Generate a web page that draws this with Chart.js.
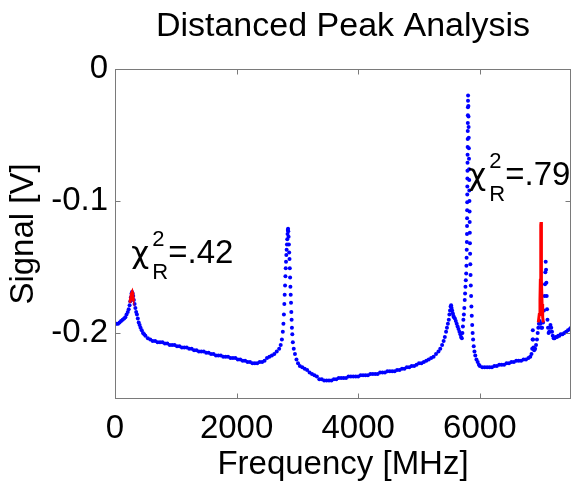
<!DOCTYPE html>
<html>
<head>
<meta charset="utf-8">
<script src="https://cdn.jsdelivr.net/npm/chart.js@4.4.1/dist/chart.umd.min.js"></script>
<style>
  html, body { margin: 0; padding: 0; background: #fff; }
  canvas { display: block; }
</style>
</head>
<body>
<canvas id="peakChart" width="576" height="485"></canvas>
<script>
// measured signal (blue dots)
var freqMHz = [
  0, 25, 50, 75, 100, 125, 150, 170, 190, 210,
  225, 240, 252, 262, 272, 280, 290, 300, 310, 322,
  335, 348, 361, 375, 390, 405, 420, 440, 460, 480,
  500, 540, 580, 620, 660, 700, 740, 780, 820, 860,
  900, 940, 980, 1020, 1060, 1100, 1140, 1180, 1220, 1260,
  1300, 1340, 1380, 1420, 1460, 1500, 1540, 1580, 1620, 1660,
  1700, 1740, 1780, 1820, 1860, 1900, 1940, 1980, 2020, 2060,
  2100, 2140, 2180, 2220, 2260, 2300, 2340, 2380, 2420, 2460,
  2500, 2540, 2580, 2620, 2660, 2700, 2725, 2745,
  2760, 2770, 2778, 2785, 2791, 2797, 2803, 2808, 2813, 2818,
  2823, 2828, 2833, 2838, 2842, 2846, 2850, 2855, 2860, 2865,
  2870, 2875, 2880, 2885, 2890, 2895, 2900, 2905, 2910, 2916,
  2925, 2940, 2960, 2985, 3010, 3040,
  3080, 3120, 3160, 3200, 3240, 3280, 3320, 3360, 3400, 3440,
  3480, 3520, 3560, 3600, 3640, 3680, 3720, 3760, 3800, 3840,
  3880, 3920, 3960, 4000, 4040, 4080, 4120, 4160, 4200, 4240,
  4280, 4320, 4360, 4400, 4440, 4480, 4520, 4560, 4600, 4640,
  4680, 4720, 4760, 4800, 4840, 4880, 4920, 4960, 5000, 5040,
  5080, 5120, 5160, 5200, 5240, 5280, 5320, 5350, 5380, 5405,
  5425, 5445, 5460, 5475, 5490, 5500, 5510, 5520, 5528, 5536,
  5545, 5555, 5565, 5575, 5590, 5605, 5620, 5635, 5650, 5665,
  5680, 5692, 5705,
  5714, 5722, 5730, 5738, 5745, 5752, 5758, 5764, 5770, 5776,
  5780, 5783, 5785, 5787, 5789, 5790, 5791, 5792, 5793, 5794,
  5795, 5796, 5797, 5798, 5799, 5800, 5801, 5802, 5803, 5804,
  5805, 5806, 5807, 5812, 5814, 5816, 5818, 5820, 5822, 5824,
  5826, 5828, 5830, 5832, 5834, 5836, 5838, 5841, 5844, 5848,
  5852, 5857, 5862, 5868, 5875, 5882, 5890, 5900, 5912, 5926,
  5945, 5965, 5985,
  6000, 6040, 6080, 6120, 6160, 6200, 6240, 6280, 6320, 6360,
  6400, 6440, 6480, 6520, 6560, 6600, 6640, 6680, 6720, 6760,
  6800, 6830, 6850, 6862, 6868, 6872, 6876, 6882, 6895, 6910,
  6925, 6940, 6952, 6962, 6972, 6985, 6998, 7010, 7025, 7040,
  7055, 7065, 7072, 7078, 7084, 7090, 7095, 7100, 7106, 7113,
  7122, 7132, 7142, 7152, 7162, 7175, 7188, 7200, 7215, 7230,
  7250, 7270, 7290, 7310, 7330, 7360, 7390, 7420, 7450, 7480, 7500
];
var signalV = [
  -0.193, -0.193, -0.193, -0.192, -0.191, -0.190, -0.189, -0.188, -0.186, -0.184,
  -0.182, -0.179, -0.176, -0.173, -0.170, -0.169, -0.170, -0.172, -0.175, -0.178,
  -0.181, -0.184, -0.186, -0.189, -0.192, -0.194, -0.196, -0.198, -0.200, -0.201,
  -0.202, -0.204, -0.205, -0.206, -0.206, -0.207, -0.207, -0.207, -0.208, -0.208,
  -0.209, -0.209, -0.209, -0.210, -0.210, -0.211, -0.211, -0.211, -0.212, -0.212,
  -0.213, -0.213, -0.214, -0.214, -0.214, -0.215, -0.215, -0.216, -0.216, -0.217,
  -0.217, -0.217, -0.218, -0.218, -0.218, -0.219, -0.219, -0.219, -0.220, -0.220,
  -0.221, -0.221, -0.222, -0.222, -0.223, -0.223, -0.223, -0.222, -0.222, -0.221,
  -0.219, -0.218, -0.217, -0.216, -0.214, -0.212, -0.209, -0.205,
  -0.199, -0.193, -0.186, -0.178, -0.171, -0.164, -0.157, -0.151, -0.146, -0.141,
  -0.137, -0.133, -0.129, -0.125, -0.122, -0.121, -0.123, -0.127, -0.133, -0.139,
  -0.144, -0.151, -0.158, -0.165, -0.171, -0.177, -0.184, -0.190, -0.196, -0.201,
  -0.207, -0.212, -0.216, -0.220, -0.223, -0.225,
  -0.226, -0.227, -0.228, -0.230, -0.231, -0.232, -0.233, -0.235, -0.235, -0.236,
  -0.236, -0.236, -0.236, -0.235, -0.235, -0.234, -0.234, -0.234, -0.234, -0.233,
  -0.233, -0.233, -0.233, -0.233, -0.232, -0.232, -0.232, -0.232, -0.231, -0.231,
  -0.231, -0.231, -0.230, -0.230, -0.230, -0.229, -0.229, -0.229, -0.229, -0.228,
  -0.228, -0.227, -0.227, -0.226, -0.226, -0.225, -0.225, -0.224, -0.223, -0.223,
  -0.222, -0.221, -0.220, -0.219, -0.218, -0.216, -0.214, -0.212, -0.209, -0.206,
  -0.203, -0.199, -0.196, -0.193, -0.190, -0.186, -0.183, -0.180, -0.179, -0.181,
  -0.183, -0.185, -0.187, -0.188, -0.189, -0.191, -0.193, -0.195, -0.197, -0.199,
  -0.201, -0.203, -0.204,
  -0.200, -0.195, -0.190, -0.186, -0.181, -0.175, -0.170, -0.165, -0.160, -0.155,
  -0.149, -0.143, -0.137, -0.131, -0.125, -0.119, -0.113, -0.107, -0.101, -0.095,
  -0.089, -0.083, -0.077, -0.071, -0.065, -0.059, -0.053, -0.047, -0.041, -0.035,
  -0.029, -0.024, -0.020, -0.028, -0.036, -0.044, -0.052, -0.060, -0.068, -0.076,
  -0.084, -0.092, -0.100, -0.108, -0.116, -0.124, -0.132, -0.140, -0.148, -0.156,
  -0.164, -0.172, -0.180, -0.187, -0.194, -0.200, -0.205, -0.210, -0.214, -0.217,
  -0.220, -0.222, -0.224,
  -0.225, -0.226, -0.226, -0.226, -0.226, -0.226, -0.225, -0.225, -0.224, -0.224,
  -0.224, -0.223, -0.223, -0.222, -0.222, -0.221, -0.221, -0.221, -0.220, -0.220,
  -0.219, -0.218, -0.216, -0.212, -0.205, -0.198, -0.205, -0.211, -0.213, -0.212,
  -0.209, -0.205, -0.200, -0.196, -0.193, -0.191, -0.193, -0.196, -0.196, -0.192,
  -0.183, -0.172, -0.163, -0.154, -0.146, -0.152, -0.162, -0.172, -0.182, -0.190,
  -0.196, -0.200, -0.199, -0.196, -0.194, -0.196, -0.199, -0.202, -0.204, -0.204,
  -0.203, -0.203, -0.202, -0.202, -0.201, -0.201, -0.200, -0.199, -0.198, -0.197, -0.196
];

// fitted peaks (red lines)
var fitLeftF = [245, 260, 272, 282, 292, 305];
var fitLeftV = [-0.177, -0.173, -0.170, -0.169, -0.171, -0.176];
var fitRightF = [6962, 6978, 6990, 6996, 7000, 7003, 7006, 7008, 7010, 7013, 7017, 7024, 7034, 7046];
var fitRightV = [-0.192, -0.186, -0.175, -0.160, -0.145, -0.130, -0.118, -0.116, -0.122, -0.140, -0.160, -0.178, -0.188, -0.192];

var xTicks = [0, 2000, 4000, 6000];
var yTicks = [0, -0.1, -0.2];

// reduced chi-square labels, anchored in data units
var chiText = ['.42', '.79'];
var chiF = [268, 5811];
var chiV = [-0.147, -0.088];

var titleText = 'Distanced Peak Analysis';
var FONT = '"Liberation Sans", Arial, Helvetica, sans-serif';

function toPoints(xs, ys) {
    return xs.map(function (x, i) { return { x: x, y: ys[i] }; });
}

// gray box round the axes, ticks pointing inwards (matlab style)
var boxPlugin = {
    id: 'box',
    afterDatasetsDraw: function (chart) {
        var a = chart.chartArea, sx = chart.scales.x, sy = chart.scales.y, c = chart.ctx;
        var L = Math.round(a.left) + 0.5, R = Math.round(a.right) - 0.5;
        var T = Math.round(a.top) + 0.5, B = Math.round(a.bottom) - 0.5;
        c.save();
        c.strokeStyle = '#7a7a7a';
        c.lineWidth = 1;
        c.strokeRect(L, T, R - L, B - T);
        c.beginPath();
        xTicks.forEach(function (v) {
            var px = Math.round(sx.getPixelForValue(v)) + 0.5;
            if (px <= L + 1 || px >= R - 1) return;
            c.moveTo(px, B); c.lineTo(px, B - 5);
            c.moveTo(px, T); c.lineTo(px, T + 5);
        });
        yTicks.forEach(function (v) {
            var py = Math.round(sy.getPixelForValue(v)) + 0.5;
            if (py <= T + 1 || py >= B - 1) return;
            c.moveTo(L, py); c.lineTo(L + 5, py);
            c.moveTo(R, py); c.lineTo(R - 5, py);
        });
        c.stroke();
        c.restore();
    }
};

// title centred over the axes, chi-square labels
var textPlugin = {
    id: 'texts',
    afterDraw: function (chart) {
        var c = chart.ctx, a = chart.chartArea;
        c.save();
        c.fillStyle = '#000';
        c.textBaseline = 'alphabetic';
        c.textAlign = 'center';
        c.font = '34px ' + FONT;
        c.fillText(titleText, (a.left + a.right) / 2, 36);
        c.textAlign = 'left';
        chiText.forEach(function (txt, i) {
            var x0 = chart.scales.x.getPixelForValue(chiF[i]);
            var base = chart.scales.y.getPixelForValue(chiV[i]);
            c.font = '31px "DejaVu Sans", ' + FONT;
            c.fillText('\u03c7', x0, base);
            c.font = '22px ' + FONT;
            c.fillText('2', x0 + 21, base - 17);
            c.fillText('R', x0 + 21, base + 16);
            c.font = '33px ' + FONT;
            c.fillText('=' + txt, x0 + 37, base);
        });
        c.restore();
    }
};

var tickFont = { family: FONT, size: 33, weight: 'normal', lineHeight: 1.2 };

var ctx = document.getElementById('peakChart').getContext('2d');
var chart = new Chart(ctx, {
    type: 'scatter',
    data: {
        datasets: [{
            label: 'fit 1',
            data: toPoints(fitLeftF, fitLeftV),
            showLine: true,
            borderColor: '#ff0000',
            borderWidth: 3,
            pointRadius: 0,
            order: 0
        }, {
            label: 'fit 2',
            data: toPoints(fitRightF, fitRightV),
            showLine: true,
            borderColor: '#ff0000',
            borderWidth: 3,
            pointRadius: 0,
            order: 0
        }, {
            label: 'signal',
            data: toPoints(freqMHz, signalV),
            showLine: false,
            backgroundColor: '#0000ff',
            borderColor: '#0000ff',
            pointRadius: 2,
            pointBorderWidth: 0,
            order: 1
        }]
    },
    options: {
        responsive: false,
        animation: false,
        layout: { padding: { left: 0, right: 5, top: 69, bottom: 0 }, autoPadding: false },
        plugins: {
            legend: { display: false },
            tooltip: { enabled: false },
            title: { display: false }
        },
        scales: {
            x: {
                type: 'linear',
                min: 0,
                max: 7500,
                afterBuildTicks: function (s) { s.ticks = xTicks.map(function (v) { return { value: v }; }); },
                afterFit: function (s) { s.height = 86; },
                grid: { display: false, drawTicks: false },
                border: { display: false },
                ticks: {
                    color: '#000', font: tickFont, padding: 10, maxRotation: 0, autoSkip: false,
                    callback: function (v) { return String(v); }
                },
                title: { display: true, text: 'Frequency [MHz]', color: '#000', font: tickFont, padding: 0 }
            },
            y: {
                type: 'linear',
                min: -0.25,
                max: 0,
                afterBuildTicks: function (s) { s.ticks = yTicks.map(function (v) { return { value: v }; }); },
                afterFit: function (s) { s.width = 115; },
                grid: { display: false, drawTicks: false },
                border: { display: false },
                ticks: {
                    color: '#000', font: tickFont, padding: 7, autoSkip: false,
                    callback: function (v) { return String(v); }
                },
                title: { display: true, text: 'Signal [V]', color: '#000', font: tickFont, padding: { top: 4, bottom: 0 } }
            }
        }
    },
    plugins: [boxPlugin, textPlugin]
});
</script>
</body>
</html>
